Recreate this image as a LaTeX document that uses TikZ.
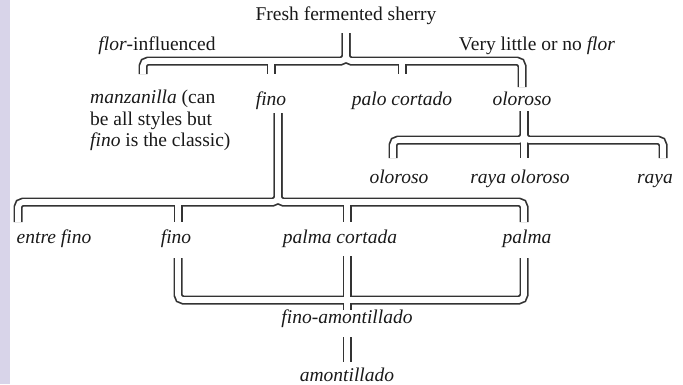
\documentclass[tikz,border=0pt]{standalone}
\usepackage{fontspec}
\setmainfont{Liberation Serif}
\begin{document}
\begin{tikzpicture}[x=1pt,y=-1pt,
  lbl/.style={anchor=base, inner sep=0pt, font=\fontsize{19.5}{21.5}\selectfont, text=black!90},
  railout/.style={line width=9pt, draw=black!80, rounded corners=5pt},
  railin/.style={line width=5.6pt, draw=white, rounded corners=5pt}]
\useasboundingbox (0,0) rectangle (683,384);
\fill[fill={rgb,255:red,216;green,212;blue,233}] (0,0) rectangle (10,384);
% labels
\node[lbl] (root) at (346,20) {Fresh fermented sherry};
\node[lbl] (flor) at (157,50) {\textit{flor}-influenced};
\node[lbl] (noflor) at (537,50) {Very little or no \textit{flor}};
\node[lbl, anchor=north west, align=left] (manz) at (90,90) {\textit{manzanilla} (can\\be all styles but\\\textit{fino} is the classic)};
\node[lbl] (fino1) at (271,105) {\textit{fino}};
\node[lbl] (palo) at (402,105) {\textit{palo cortado}};
\node[lbl] (olo1) at (522,105) {\textit{oloroso}};
\node[lbl] (olo2) at (399,183) {\textit{oloroso}};
\node[lbl] (rayaolo) at (520,183) {\textit{raya oloroso}};
\node[lbl] (raya) at (655,183) {\textit{raya}};
\node[lbl] (entre) at (54,243) {\textit{entre fino}};
\node[lbl] (fino2) at (176,243) {\textit{fino}};
\node[lbl] (palmac) at (340,243) {\textit{palma cortada}};
\node[lbl] (palma) at (527,243) {\textit{palma}};
\node[lbl] (finoam) at (347,323) {\textit{fino-amontillado}};
\node[lbl] (amon) at (347,381) {\textit{amontillado}};
% junction points
\coordinate (r0) at (root.south |- 0,33);
\coordinate (r1) at (root.south |- 0,61);
\coordinate (manzTop) at (143,74);
\coordinate (fino1Top) at (fino1.north |- 0,74);
\coordinate (paloTop) at (palo.north |- 0,74);
\coordinate (olo1Top) at (olo1.north |- 0,87);
\coordinate (o0) at (524,111);
\coordinate (o1) at (524,140);
\coordinate (olo2Top) at (393,158);
\coordinate (rayaoloTop) at (524,158);
\coordinate (rayaTop) at (663,158);
\coordinate (f0) at (278,113);
\coordinate (f1) at (278,202);
\coordinate (entreTop) at (18,222);
\coordinate (fino2Top) at (178,222);
\coordinate (palmacTop) at (347,222);
\coordinate (palmaTop) at (524,222);
\coordinate (fino2Bot) at (178,258);
\coordinate (palmacBot) at (347,256);
\coordinate (palmaBot) at (524,258);
\coordinate (m1) at (347,300);
\coordinate (finoamTop) at (347,310);
\coordinate (finoamBot) at (347,337);
\coordinate (amonTop) at (347,362);
% double rails, drawn in two passes so junctions merge
\foreach \pass in {railout,railin}{
  \draw[\pass] (r0) -- (r1) -| (manzTop);
  \draw[\pass] (r0) -- (r1) -| (olo1Top);
  \draw[\pass] (fino1Top |- r1) -- (fino1Top);
  \draw[\pass] (paloTop |- r1) -- (paloTop);
  \draw[\pass] (o0) -- (o1) -| (olo2Top);
  \draw[\pass] (o0) -- (o1) -| (rayaTop);
  \draw[\pass] (o0) -- (rayaoloTop);
  \draw[\pass] (f0) -- (f1) -| (entreTop);
  \draw[\pass] (f0) -- (f1) -| (palmaTop);
  \draw[\pass] (fino2Top |- f1) -- (fino2Top);
  \draw[\pass] (palmacTop |- f1) -- (palmacTop);
  \draw[\pass] (fino2Bot) |- (m1);
  \draw[\pass] (palmaBot) |- (m1);
  \draw[\pass] (palmacBot) -- (finoamTop);
  \draw[\pass] (finoamBot) -- (amonTop);
}
\end{tikzpicture}
\end{document}
